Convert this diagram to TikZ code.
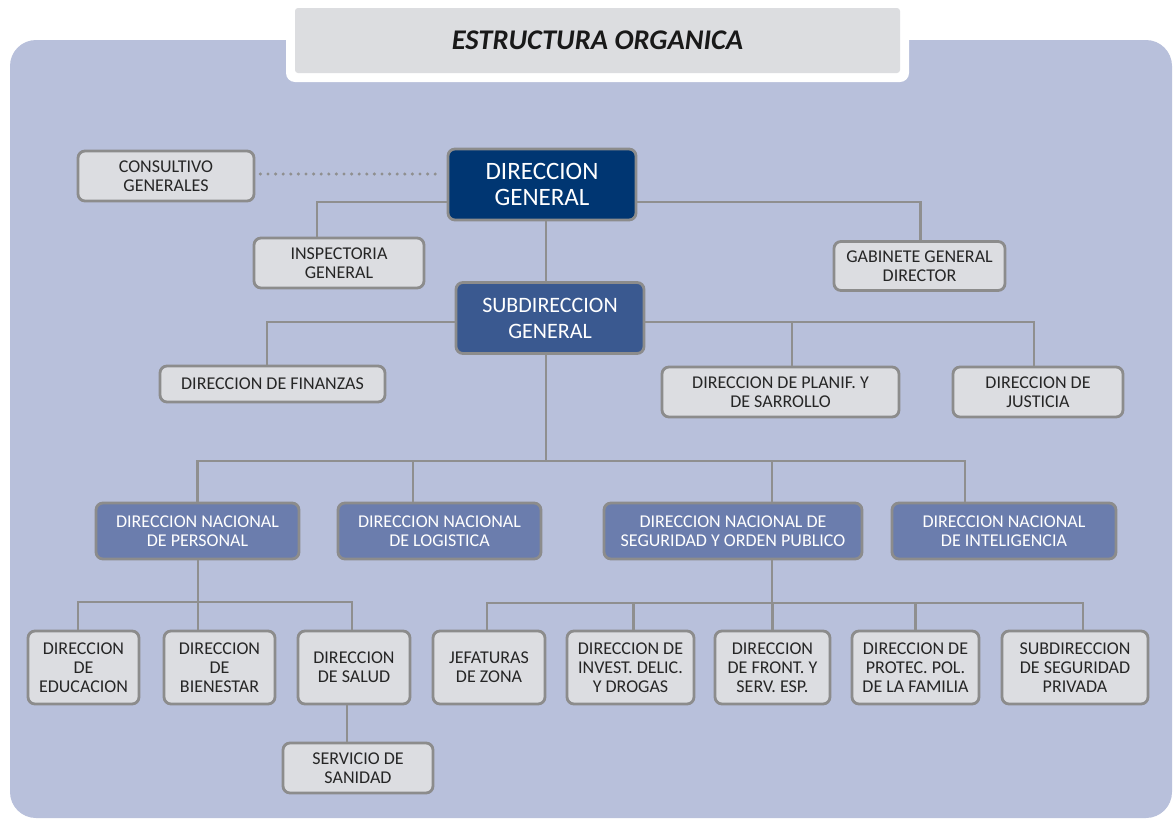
\documentclass[tikz,border=0pt]{standalone}
\usepackage{fontspec}
\setmainfont{Carlito}
\usetikzlibrary{calc}
\definecolor{panel}{HTML}{B8C0DB}
\definecolor{titlegray}{HTML}{DCDDE0}
\definecolor{lightbox}{HTML}{DCDDE1}
\definecolor{edge}{HTML}{8C8C8C}
\definecolor{wire}{HTML}{8F8F8F}
\definecolor{navy}{HTML}{003672}
\definecolor{midblue}{HTML}{3A5990}
\definecolor{paleblue}{HTML}{6B7DAD}
\definecolor{ink}{HTML}{262626}
\tikzset{
  unit/.style={rounded corners=7pt, draw=edge, line width=2.8pt, align=center,
    inner sep=0pt, font=\fontsize{18}{19}\selectfont},
  lightunit/.style={unit, fill=lightbox, text=ink},
  topunit/.style={unit, fill=navy, text=white, font=\fontsize{25}{26}\selectfont},
  subunit/.style={unit, fill=midblue, text=white, font=\fontsize{22}{26}\selectfont},
  natunit/.style={unit, fill=paleblue, text=white},
  wirepath/.style={draw=wire, line width=2.8pt},
  dotpath/.style={draw=wire, line width=3.4pt, line cap=round, dash pattern=on 0pt off 7.6pt}
}
\begin{document}
\begin{tikzpicture}[x=1pt,y=-1pt]
\useasboundingbox (0,0) rectangle (1173,820);
% background panel and title tab
\fill[panel, rounded corners=26pt] (10,40) rectangle (1172,818);
\fill[white, rounded corners=9pt] (286,0) rectangle (909,82);
\node[fill=titlegray, rounded corners=3pt, minimum width=605pt, minimum height=65pt,
      inner sep=0pt, text=black!90, font=\fontsize{28.5}{30}\selectfont\bfseries\itshape]
      (title) at (597.5,40.5) {ESTRUCTURA ORGANICA};

% top level
\node[lightunit, minimum width=176pt, minimum height=50pt] (cons) at (166,176) {CONSULTIVO\\GENERALES};
\node[topunit, minimum width=188pt, minimum height=71pt] (dg) at (542,184.5) {DIRECCION\\GENERAL};
\node[lightunit, minimum width=170pt, minimum height=50pt] (insp) at (339,263) {INSPECTORIA\\GENERAL};
\node[lightunit, minimum width=171pt, minimum height=49pt] (gab) at (919.5,266) {GABINETE GENERAL\\DIRECTOR};
\node[subunit, minimum width=188pt, minimum height=71pt] (sg) at (550,318) {SUBDIRECCION\\GENERAL};

% staff directorates
\node[lightunit, minimum width=225pt, minimum height=36pt] (fin) at (272.5,384) {DIRECCION DE FINANZAS};
\node[lightunit, minimum width=237pt, minimum height=50pt] (plan) at (780.5,392) {DIRECCION DE PLANIF. Y\\DE SARROLLO};
\node[lightunit, minimum width=170pt, minimum height=50pt] (jus) at (1038,392) {DIRECCION DE\\JUSTICIA};

% national directorates
\node[natunit, minimum width=203pt, minimum height=56pt] (per) at (197.5,531) {DIRECCION NACIONAL\\DE PERSONAL};
\node[natunit, minimum width=203pt, minimum height=56pt] (log) at (439.5,531) {DIRECCION NACIONAL\\DE LOGISTICA};
\node[natunit, minimum width=258pt, minimum height=56pt] (seg) at (733,531) {DIRECCION NACIONAL DE\\SEGURIDAD Y ORDEN PUBLICO};
\node[natunit, minimum width=224pt, minimum height=56pt] (int) at (1004,531) {DIRECCION NACIONAL\\DE INTELIGENCIA};

% personnel branch
\node[lightunit, minimum width=111pt, minimum height=73pt] (edu) at (83.5,667.5) {DIRECCION\\DE\\EDUCACION};
\node[lightunit, minimum width=111pt, minimum height=73pt] (bie) at (219.5,667.5) {DIRECCION\\DE\\BIENESTAR};
\node[lightunit, minimum width=112pt, minimum height=73pt] (sal) at (354,667.5) {DIRECCION\\DE SALUD};
\node[lightunit, minimum width=150pt, minimum height=50pt] (san) at (358,768) {SERVICIO DE\\SANIDAD};

% security branch
\node[lightunit, minimum width=112pt, minimum height=73pt] (jef) at (489,667.5) {JEFATURAS\\DE ZONA};
\node[lightunit, minimum width=127pt, minimum height=73pt] (inv) at (630.5,667.5) {DIRECCION DE\\INVEST. DELIC.\\Y DROGAS};
\node[lightunit, minimum width=115pt, minimum height=73pt] (fro) at (772.5,667.5) {DIRECCION\\DE FRONT. Y\\SERV. ESP.};
\node[lightunit, minimum width=127pt, minimum height=73pt] (pro) at (915.5,667.5) {DIRECCION DE\\PROTEC. POL.\\DE LA FAMILIA};
\node[lightunit, minimum width=146pt, minimum height=73pt] (pri) at (1075,667.5) {SUBDIRECCION\\DE SEGURIDAD\\PRIVADA};

% bus levels
\coordinate (dgbus) at ([yshift=-17.5pt]dg.west);
\coordinate (sgbus) at ([yshift=-4pt]sg.east);
\coordinate (bus1) at (546,461);
\coordinate (bus2) at (198,602);
\coordinate (bus3) at (772,603);
\coordinate (dotL) at ([yshift=2pt]cons.east);

% connectors
\draw[dotpath, shorten <=5pt, shorten >=7pt] (dotL) -- (dotL -| dg.west);
\draw[wirepath] (dgbus) -| ([xshift=-22pt]insp.north);
\draw[wirepath] ([yshift=-17.5pt]dg.east) -| ([xshift=1pt]gab.north);
\draw[wirepath] ([xshift=4pt]dg.south) -- ([xshift=4pt]dg.south |- sg.north);
\draw[wirepath] ([yshift=-4pt]sg.west) -| ([xshift=-5.5pt]fin.north);
\draw[wirepath] (sgbus) -| ([xshift=-4pt]jus.north);
\draw[wirepath] ([xshift=11.5pt]plan.north) -- ([xshift=11.5pt]plan.north |- sgbus);
\draw[wirepath] ([xshift=-4pt]sg.south) -- ([xshift=-4pt]sg.south |- bus1);
\draw[wirepath] (per.north) -- (per.north |- bus1) -- ([xshift=-39pt]int.north |- bus1) -- ([xshift=-39pt]int.north);
\draw[wirepath] ([xshift=-26.5pt]log.north) -- ([xshift=-26.5pt]log.north |- bus1);
\draw[wirepath] ([xshift=39pt]seg.north) -- ([xshift=39pt]seg.north |- bus1);
\draw[wirepath] ([xshift=0.5pt]per.south) -- ([xshift=0.5pt]per.south |- bus2);
\draw[wirepath] ([xshift=-5.5pt]edu.north) -- ([xshift=-5.5pt]edu.north |- bus2) -- ([xshift=-2pt]sal.north |- bus2) -- ([xshift=-2pt]sal.north);
\draw[wirepath] ([xshift=-21.5pt]bie.north) -- ([xshift=-21.5pt]bie.north |- bus2);
\draw[wirepath] ([xshift=-7pt]sal.south) -- ([xshift=-7pt]sal.south |- san.north);
\draw[wirepath] ([xshift=39pt]seg.south) -- ([xshift=39pt]seg.south |- bus3);
\draw[wirepath] ([xshift=-2pt]jef.north) -- ([xshift=-2pt]jef.north |- bus3) -- ([xshift=8pt]pri.north |- bus3) -- ([xshift=8pt]pri.north);
\draw[wirepath] ([xshift=3pt]inv.north) -- ([xshift=3pt]inv.north |- bus3);
\draw[wirepath] (fro.north) -- (fro.north |- bus3);
\draw[wirepath] (pro.north) -- (pro.north |- bus3);
\end{tikzpicture}
\end{document}
